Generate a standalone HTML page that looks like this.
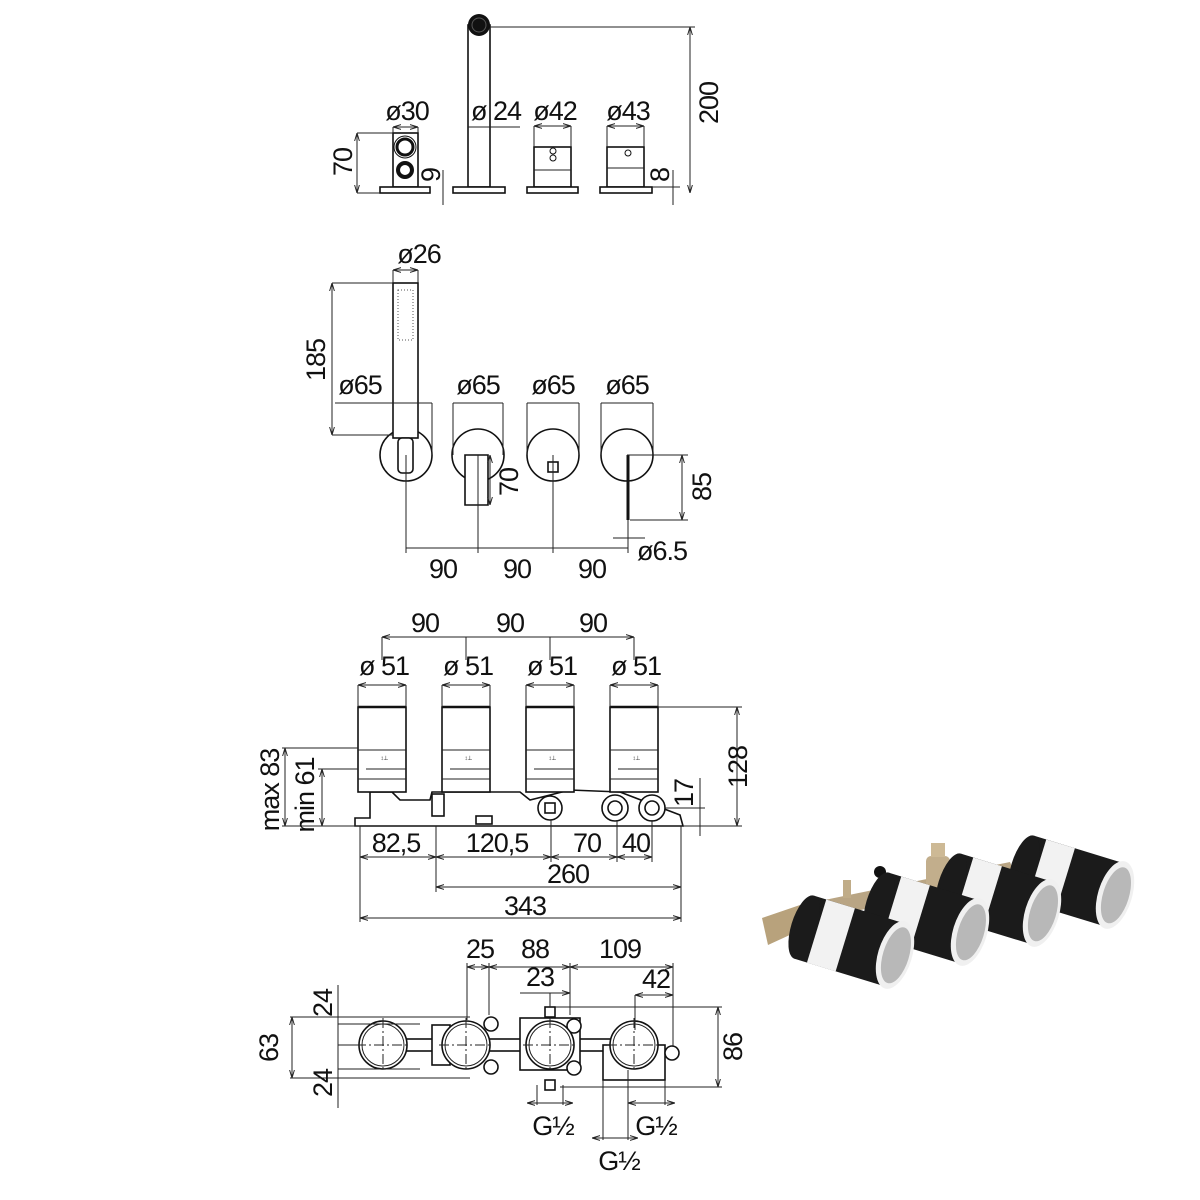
<!DOCTYPE html>
<html><head><meta charset="utf-8"><style>
html,body{margin:0;padding:0;background:#fff;}
svg{display:block;}
text{font-family:"Liberation Sans",Arial,sans-serif;font-size:27px;fill:#111;text-anchor:middle;letter-spacing:-1px}
.l{stroke:#222;stroke-width:1;fill:none}
.t{stroke:#111;stroke-width:1.6;fill:#fff}
</style></head><body>
<svg width="1200" height="1200" viewBox="0 0 1200 1200">
<defs>
<marker id="a" viewBox="0 0 10 10" refX="10" refY="5" markerWidth="8" markerHeight="8" orient="auto-start-reverse"><path d="M0,2L10,5L0,8" fill="none" stroke="#222" stroke-width="1.2"/></marker>
</defs>

<!-- ===== Section 1 ===== -->
<g>
<rect class="t" x="393" y="133" width="25" height="54"/>
<circle cx="405" cy="147" r="8" fill="none" stroke="#111" stroke-width="3"/>
<circle cx="405" cy="147" r="11" fill="none" stroke="#111" stroke-width="1"/>
<circle cx="405" cy="170" r="7" fill="none" stroke="#111" stroke-width="4"/>
<rect class="t" x="380" y="187" width="50" height="6"/>
<line class="l" x1="357" y1="133" x2="357" y2="193" marker-start="url(#a)" marker-end="url(#a)"/>
<line class="l" x1="357" y1="133" x2="393" y2="133"/>
<line class="l" x1="357" y1="193" x2="380" y2="193"/>
<text transform="translate(352,162) rotate(-90)">70</text>
<line class="l" x1="393" y1="127" x2="418" y2="127" marker-start="url(#a)" marker-end="url(#a)"/>
<line class="l" x1="393" y1="127" x2="393" y2="133"/><line class="l" x1="418" y1="127" x2="418" y2="133"/>
<text x="407" y="120">ø30</text>
<line class="l" x1="443" y1="170" x2="443" y2="205"/>
<text transform="translate(440,175) rotate(-90)">9</text>

<rect class="t" x="468" y="25" width="22" height="162"/>
<circle cx="479" cy="25" r="11" fill="#111"/>
<circle cx="479" cy="25" r="7" fill="none" stroke="#555" stroke-width="1"/>
<rect class="t" x="453" y="187" width="52" height="6"/>
<line class="l" x1="468" y1="127" x2="520" y2="127"/>
<text x="496" y="120">ø 24</text>
<line class="l" x1="490" y1="27" x2="695" y2="27"/>
<line class="l" x1="690" y1="27" x2="690" y2="193" marker-start="url(#a)" marker-end="url(#a)"/>
<text transform="translate(718,103) rotate(-90)">200</text>

<rect class="t" x="534" y="147" width="37" height="40"/>
<line class="l" x1="534" y1="170" x2="571" y2="170" stroke-width="1.5"/>
<circle cx="553" cy="151" r="3" fill="none" stroke="#111"/><circle cx="553" cy="158" r="3" fill="none" stroke="#111"/>
<rect class="t" x="527" y="187" width="51" height="6"/>
<line class="l" x1="534" y1="126" x2="571" y2="126" marker-start="url(#a)" marker-end="url(#a)"/>
<line class="l" x1="534" y1="126" x2="534" y2="147"/><line class="l" x1="571" y1="126" x2="571" y2="147"/>
<text x="555" y="120">ø42</text>

<rect class="t" x="607" y="147" width="37" height="40"/>
<line class="l" x1="607" y1="168" x2="644" y2="168" stroke-width="1.5"/>
<circle cx="628" cy="153" r="3" fill="none" stroke="#111"/>
<rect class="t" x="600" y="187" width="52" height="6"/>
<line class="l" x1="607" y1="126" x2="644" y2="126" marker-start="url(#a)" marker-end="url(#a)"/>
<line class="l" x1="607" y1="126" x2="607" y2="147"/><line class="l" x1="644" y1="126" x2="644" y2="147"/>
<text x="628" y="120">ø43</text>
<line class="l" x1="673" y1="170" x2="673" y2="205"/>
<line class="l" x1="652" y1="187" x2="680" y2="187"/>
<text transform="translate(669,175) rotate(-90)">8</text>
</g>

<!-- ===== Section 2 ===== -->
<g>
<circle class="t" cx="406" cy="455" r="26"/>
<circle class="t" cx="478" cy="455" r="26"/>
<circle class="t" cx="553" cy="455" r="26"/>
<circle class="t" cx="627" cy="455" r="26"/>
<rect class="t" x="393" y="283" width="25" height="155"/>
<rect x="398" y="290" width="15" height="50" fill="none" stroke="#555" stroke-dasharray="1 2"/>
<rect class="t" x="398" y="438" width="15" height="35" rx="4"/>
<path class="t" d="M465,455 L488,455 L488,505 L465,505 L465,470 Z"/>
<rect class="t" x="548" y="462" width="10" height="10"/>
<line x1="628" y1="455" x2="628" y2="520" stroke="#111" stroke-width="3"/>
<line class="l" x1="393" y1="270" x2="418" y2="270" marker-start="url(#a)" marker-end="url(#a)"/>
<line class="l" x1="393" y1="270" x2="393" y2="283"/><line class="l" x1="418" y1="270" x2="418" y2="283"/>
<text x="419" y="263">ø26</text>
<line class="l" x1="332" y1="283" x2="393" y2="283"/><line class="l" x1="332" y1="435" x2="393" y2="435"/>
<line class="l" x1="332" y1="283" x2="332" y2="435" marker-start="url(#a)" marker-end="url(#a)"/>
<text transform="translate(325,360) rotate(-90)">185</text>
<line class="l" x1="335" y1="403" x2="432" y2="403"/>
<line class="l" x1="432" y1="403" x2="432" y2="455"/>
<text x="360" y="394">ø65</text>
<line class="l" x1="453" y1="403" x2="503" y2="403"/><line class="l" x1="453" y1="403" x2="453" y2="455"/><line class="l" x1="503" y1="403" x2="503" y2="455"/>
<text x="478" y="394">ø65</text>
<line class="l" x1="527" y1="403" x2="579" y2="403"/><line class="l" x1="527" y1="403" x2="527" y2="455"/><line class="l" x1="579" y1="403" x2="579" y2="455"/>
<text x="553" y="394">ø65</text>
<line class="l" x1="601" y1="403" x2="653" y2="403"/><line class="l" x1="601" y1="403" x2="601" y2="455"/><line class="l" x1="653" y1="403" x2="653" y2="455"/>
<text x="627" y="394">ø65</text>
<line class="l" x1="490" y1="455" x2="490" y2="505" marker-start="url(#a)" marker-end="url(#a)"/>
<text transform="translate(518,482) rotate(-90)">70</text>
<line class="l" x1="627" y1="455" x2="688" y2="455"/><line class="l" x1="630" y1="520" x2="688" y2="520"/>
<line class="l" x1="682" y1="455" x2="682" y2="520" marker-start="url(#a)" marker-end="url(#a)"/>
<text transform="translate(711,487) rotate(-90)">85</text>
<line class="l" x1="406" y1="455" x2="406" y2="553"/><line class="l" x1="478" y1="455" x2="478" y2="553"/>
<line class="l" x1="553" y1="455" x2="553" y2="553"/><line class="l" x1="628" y1="520" x2="628" y2="553"/>
<line class="l" x1="406" y1="548" x2="628" y2="548"/>
<line class="l" x1="613" y1="538" x2="645" y2="538"/>
<text x="662" y="560">ø6.5</text>
<text x="443" y="578">90</text><text x="517" y="578">90</text><text x="592" y="578">90</text>
</g>

<!-- ===== Section 3 ===== -->
<g>
<line class="l" x1="382" y1="637" x2="634" y2="637" marker-start="url(#a)" marker-end="url(#a)"/>
<line class="l" x1="382" y1="637" x2="382" y2="660"/><line class="l" x1="466" y1="637" x2="466" y2="660"/>
<line class="l" x1="550" y1="637" x2="550" y2="660"/><line class="l" x1="634" y1="637" x2="634" y2="660"/>
<text x="425" y="632">90</text><text x="510" y="632">90</text><text x="593" y="632">90</text>
<path class="t" d="M355,826 L355,818 L370,818 L370,792 L392,792 L400,800 L430,800 L432,792 L520,792 L530,800 L570,790 L620,792 L680,815 L683,826 Z"/>
<circle class="t" cx="550" cy="808" r="12"/><rect class="t" x="545" y="803" width="10" height="10"/>
<circle class="t" cx="615" cy="808" r="13" stroke-width="2.2"/><circle class="t" cx="615" cy="808" r="7"/>
<circle class="t" cx="652" cy="808" r="13" stroke-width="2.2"/><circle class="t" cx="652" cy="808" r="7"/>
<rect class="t" x="432" y="794" width="12" height="22"/>
<rect class="t" x="476" y="816" width="16" height="8"/>
<g id="cyl">
<rect class="t" x="358" y="707" width="48" height="85"/>
<line x1="358" y1="707" x2="406" y2="707" stroke="#111" stroke-width="2.5"/>
<line class="l" x1="358" y1="750" x2="406" y2="750"/>
<line class="l" x1="366" y1="769" x2="406" y2="769"/>
<line class="l" x1="358" y1="779" x2="406" y2="779"/>
<text x="384" y="760" style="font-size:6px">↕ ⊥</text>
</g>
<use href="#cyl" x="84"/><use href="#cyl" x="168"/><use href="#cyl" x="252"/>
<line class="l" x1="358" y1="685" x2="406" y2="685" marker-start="url(#a)" marker-end="url(#a)"/>
<line class="l" x1="358" y1="685" x2="358" y2="707"/><line class="l" x1="406" y1="685" x2="406" y2="707"/>
<text x="384" y="675">ø 51</text>
<line class="l" x1="442" y1="685" x2="490" y2="685" marker-start="url(#a)" marker-end="url(#a)"/>
<line class="l" x1="442" y1="685" x2="442" y2="707"/><line class="l" x1="490" y1="685" x2="490" y2="707"/>
<text x="468" y="675">ø 51</text>
<line class="l" x1="526" y1="685" x2="574" y2="685" marker-start="url(#a)" marker-end="url(#a)"/>
<line class="l" x1="526" y1="685" x2="526" y2="707"/><line class="l" x1="574" y1="685" x2="574" y2="707"/>
<text x="552" y="675">ø 51</text>
<line class="l" x1="610" y1="685" x2="658" y2="685" marker-start="url(#a)" marker-end="url(#a)"/>
<line class="l" x1="610" y1="685" x2="610" y2="707"/><line class="l" x1="658" y1="685" x2="658" y2="707"/>
<text x="636" y="675">ø 51</text>
<line class="l" x1="282" y1="748" x2="358" y2="748"/><line class="l" x1="318" y1="769" x2="358" y2="769"/>
<line class="l" x1="282" y1="826" x2="360" y2="826"/>
<line class="l" x1="285" y1="748" x2="285" y2="826" marker-start="url(#a)" marker-end="url(#a)"/>
<line class="l" x1="322" y1="769" x2="322" y2="826" marker-start="url(#a)" marker-end="url(#a)"/>
<text transform="translate(279,790) rotate(-90)">max 83</text>
<text transform="translate(314,795) rotate(-90)">min 61</text>
<line class="l" x1="658" y1="707" x2="742" y2="707"/><line class="l" x1="683" y1="826" x2="742" y2="826"/>
<line class="l" x1="737" y1="707" x2="737" y2="826" marker-start="url(#a)" marker-end="url(#a)"/>
<text transform="translate(747,767) rotate(-90)">128</text>
<line class="l" x1="665" y1="808" x2="705" y2="808"/>
<line class="l" x1="700" y1="778" x2="700" y2="836"/>
<text transform="translate(693,793) rotate(-90)">17</text>
<line class="l" x1="360" y1="826" x2="360" y2="922"/><line class="l" x1="436" y1="826" x2="436" y2="892"/>
<line class="l" x1="551" y1="820" x2="551" y2="862"/><line class="l" x1="617" y1="820" x2="617" y2="862"/>
<line class="l" x1="652" y1="820" x2="652" y2="862"/><line class="l" x1="681" y1="826" x2="681" y2="922"/>
<line class="l" x1="360" y1="857" x2="436" y2="857" marker-start="url(#a)" marker-end="url(#a)"/>
<line class="l" x1="436" y1="857" x2="551" y2="857" marker-start="url(#a)" marker-end="url(#a)"/>
<line class="l" x1="551" y1="857" x2="617" y2="857" marker-start="url(#a)" marker-end="url(#a)"/>
<line class="l" x1="617" y1="857" x2="652" y2="857" marker-start="url(#a)" marker-end="url(#a)"/>
<line class="l" x1="436" y1="887" x2="681" y2="887" marker-start="url(#a)" marker-end="url(#a)"/>
<line class="l" x1="360" y1="918" x2="681" y2="918" marker-start="url(#a)" marker-end="url(#a)"/>
<text x="396" y="852">82,5</text><text x="497" y="852">120,5</text><text x="587" y="852">70</text><text x="636" y="852">40</text>
<text x="568" y="883">260</text><text x="525" y="915">343</text>
</g>

<!-- ===== Section 4 ===== -->
<g>
<rect class="t" x="400" y="1039" width="250" height="12"/>
<rect class="t" x="432" y="1025" width="18" height="40"/>
<rect class="t" x="520" y="1018" width="60" height="52"/>
<rect class="t" x="603" y="1045" width="62" height="35"/>
<circle class="t" cx="491" cy="1024" r="7"/><circle class="t" cx="491" cy="1067" r="7"/>
<circle class="t" cx="574" cy="1026" r="7"/><circle class="t" cx="574" cy="1068" r="7"/>
<circle class="t" cx="672" cy="1053" r="7"/>
<rect class="t" x="545" y="1007" width="10" height="10"/><rect class="t" x="545" y="1080" width="10" height="10"/>
<g id="c4"><circle class="t" cx="383" cy="1045" r="24"/><circle class="l" cx="383" cy="1045" r="21"/>
<line class="l" x1="383" y1="1018" x2="383" y2="1072" stroke-dasharray="10 3 2 3"/><line class="l" x1="356" y1="1045" x2="410" y2="1045" stroke-dasharray="10 3 2 3"/></g>
<use href="#c4" x="83"/><use href="#c4" x="167"/><use href="#c4" x="251"/>
<line class="l" x1="290" y1="1017" x2="470" y2="1017"/><line class="l" x1="290" y1="1078" x2="470" y2="1078"/>
<line class="l" x1="338" y1="1024" x2="420" y2="1024"/><line class="l" x1="338" y1="1069" x2="420" y2="1069"/>
<line class="l" x1="338" y1="1045" x2="360" y2="1045"/>
<line class="l" x1="292" y1="1017" x2="292" y2="1078" marker-start="url(#a)" marker-end="url(#a)"/>
<text transform="translate(278,1048) rotate(-90)">63</text>
<line class="l" x1="338" y1="985" x2="338" y2="1108"/>
<text transform="translate(332,1003) rotate(-90)">24</text>
<text transform="translate(332,1083) rotate(-90)">24</text>
<line class="l" x1="467" y1="963" x2="467" y2="1020"/><line class="l" x1="489" y1="963" x2="489" y2="1015"/>
<line class="l" x1="570" y1="963" x2="570" y2="1015"/><line class="l" x1="673" y1="963" x2="673" y2="1047"/>
<line class="l" x1="467" y1="967" x2="489" y2="967" marker-start="url(#a)" marker-end="url(#a)"/>
<line class="l" x1="489" y1="967" x2="570" y2="967" marker-start="url(#a)" marker-end="url(#a)"/>
<line class="l" x1="570" y1="967" x2="673" y2="967" marker-start="url(#a)" marker-end="url(#a)"/>
<text x="480" y="958">25</text><text x="535" y="958">88</text><text x="620" y="958">109</text>
<line class="l" x1="520" y1="993" x2="570" y2="993" marker-end="url(#a)"/>
<line class="l" x1="550" y1="993" x2="550" y2="1007"/>
<text x="540" y="986">23</text>
<line class="l" x1="635" y1="995" x2="673" y2="995" marker-start="url(#a)" marker-end="url(#a)"/>
<line class="l" x1="635" y1="995" x2="635" y2="1030"/>
<text x="656" y="988">42</text>
<line class="l" x1="555" y1="1007" x2="722" y2="1007"/><line class="l" x1="560" y1="1087" x2="722" y2="1087"/>
<line class="l" x1="718" y1="1007" x2="718" y2="1087" marker-start="url(#a)" marker-end="url(#a)"/>
<text transform="translate(742,1047) rotate(-90)">86</text>
<line class="l" x1="537" y1="1085" x2="537" y2="1105"/><line class="l" x1="563" y1="1085" x2="563" y2="1105"/>
<line class="l" x1="527" y1="1103" x2="573" y2="1103" marker-start="url(#a)" marker-end="url(#a)"/>
<line class="l" x1="628" y1="1070" x2="628" y2="1140"/><line class="l" x1="665" y1="1080" x2="665" y2="1105"/>
<line class="l" x1="628" y1="1103" x2="675" y2="1103" marker-start="url(#a)" marker-end="url(#a)"/>
<line class="l" x1="603" y1="1080" x2="603" y2="1140"/>
<line class="l" x1="592" y1="1138" x2="638" y2="1138" marker-start="url(#a)" marker-end="url(#a)"/>
<text x="553" y="1135">G½</text><text x="656" y="1135">G½</text><text x="619" y="1170">G½</text>
</g>

<!-- ===== 3D render ===== -->
<g>
<path d="M800,905 L1010,862 L1016,876 L806,922 Z" fill="#b9a584"/>
<rect x="926" y="856" width="24" height="32" rx="5" fill="#c2ae8c"/>
<rect x="931" y="843" width="14" height="14" fill="#cdb995"/>
<path d="M762,918 L800,905 L805,928 L768,945 Z" fill="#b8a27c"/>
<rect x="843" y="880" width="8" height="18" fill="#c0ac88"/>
<circle cx="880" cy="872" r="6" fill="#111"/>
<g transform="translate(1115,895) rotate(17)">
<rect x="-95" y="-33" width="95" height="66" fill="#1b1b1b"/><ellipse cx="-95" cy="0" rx="13" ry="33" fill="#1b1b1b"/>
<rect x="-82" y="-33" width="30" height="66" fill="#f2f2f2"/>
<ellipse cx="0" cy="0" rx="17" ry="35" fill="#f0f0f0"/><ellipse cx="1" cy="0" rx="13" ry="29" fill="#b8b8b8"/></g>
<g transform="translate(1042,913) rotate(17)">
<rect x="-95" y="-33" width="95" height="66" fill="#1b1b1b"/><ellipse cx="-95" cy="0" rx="13" ry="33" fill="#1b1b1b"/>
<rect x="-82" y="-33" width="30" height="66" fill="#f2f2f2"/>
<ellipse cx="0" cy="0" rx="17" ry="35" fill="#f0f0f0"/><ellipse cx="1" cy="0" rx="13" ry="29" fill="#b8b8b8"/></g>
<g transform="translate(970,932) rotate(17)">
<rect x="-95" y="-33" width="95" height="66" fill="#1b1b1b"/><ellipse cx="-95" cy="0" rx="13" ry="33" fill="#1b1b1b"/>
<rect x="-82" y="-33" width="30" height="66" fill="#f2f2f2"/>
<ellipse cx="0" cy="0" rx="17" ry="35" fill="#f0f0f0"/><ellipse cx="1" cy="0" rx="13" ry="29" fill="#b8b8b8"/></g>
<g transform="translate(895,955) rotate(17)">
<rect x="-95" y="-33" width="95" height="66" fill="#1b1b1b"/><ellipse cx="-95" cy="0" rx="13" ry="33" fill="#1b1b1b"/>
<rect x="-82" y="-33" width="30" height="66" fill="#f2f2f2"/>
<ellipse cx="0" cy="0" rx="17" ry="35" fill="#f0f0f0"/><ellipse cx="1" cy="0" rx="13" ry="29" fill="#b8b8b8"/></g>
</g>
</svg>
</body></html>
